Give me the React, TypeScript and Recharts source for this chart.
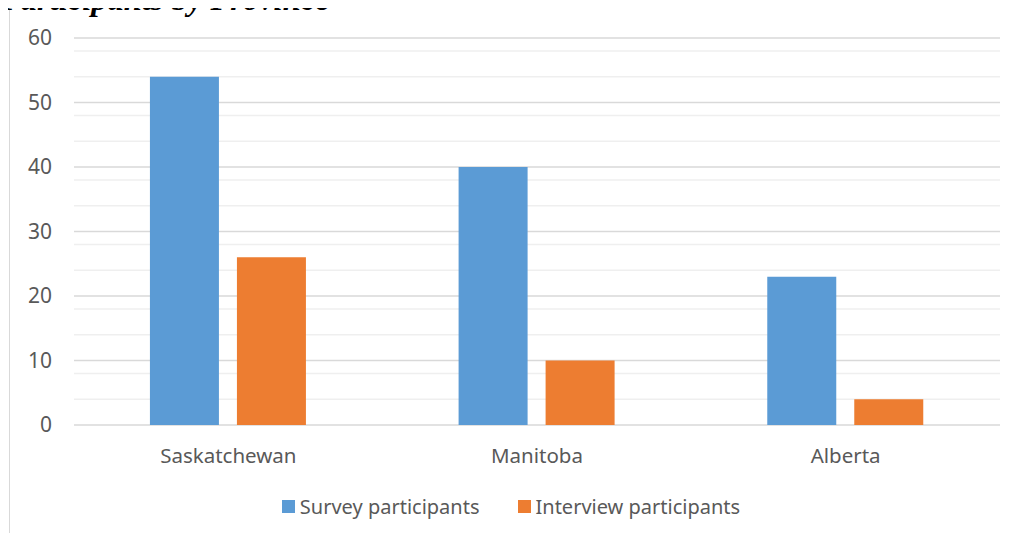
import React from "react";
import {
  BarChart,
  Bar,
  XAxis,
  YAxis,
  CartesianGrid,
  Legend,
} from "recharts";

const provinces = ["Saskatchewan", "Manitoba", "Alberta"];
const surveyParticipants = [54, 40, 23];
const interviewParticipants = [26, 10, 4];
const majorTicks = [0, 10, 20, 30, 40, 50, 60];
const minorTicks = [2, 4, 6, 8, 12, 14, 16, 18, 22, 24, 26, 28, 32, 34, 36, 38, 42, 44, 46, 48, 52, 54, 56, 58];

const series = [
  { key: "survey", name: "Survey participants", color: "#5b9bd5" },
  { key: "interview", name: "Interview participants", color: "#ed7d31" },
];

const chartData = provinces.map((name, i) => ({
  name,
  survey: surveyParticipants[i],
  interview: interviewParticipants[i],
}));

const FONT = "'Noto Sans', sans-serif";
const TEXT = "#595959";

// own legend so the order follows the series list
const LegendContent = () => (
  <div
    style={{
      display: "flex",
      justifyContent: "center",
      alignItems: "center",
      fontFamily: FONT,
      fontSize: 20,
      color: TEXT,
      paddingLeft: 12,
    }}
  >
    {series.map((s, i) => (
      <div
        key={s.key}
        style={{ display: "flex", alignItems: "center", marginLeft: i === 0 ? 0 : 38 }}
      >
        <span
          style={{
            width: 13,
            height: 13,
            background: s.color,
            display: "inline-block",
            marginRight: 5,
          }}
        />
        <span>{s.name}</span>
      </div>
    ))}
  </div>
);

const App = () => {
  return (
    <div
      style={{
        position: "relative",
        margin: -8,
        width: 1017,
        height: 541,
        overflow: "hidden",
        background: "#fff",
      }}
    >
      <div
        style={{
          position: "absolute",
          left: 1,
          top: -17,
          fontFamily: "'Liberation Serif', serif",
          fontStyle: "italic",
          fontWeight: "bold",
          fontSize: 32.5,
          lineHeight: "32.5px",
          whiteSpace: "nowrap",
          color: "#000",
          zIndex: 2,
        }}
      >
        Participants by Province
      </div>
      <div
        style={{
          position: "absolute",
          left: 9,
          top: 7,
          width: 1006,
          height: 560,
          border: "1px solid #d9d9d9",
        }}
      >
        <BarChart
          width={1006}
          height={560}
          data={chartData}
          margin={{ top: 30, right: 16, left: 0, bottom: 45 }}
          barCategoryGap="24.6%"
          barGap={18}
        >
          <CartesianGrid
            vertical={false}
            horizontalValues={minorTicks}
            stroke="#efefef"
            strokeWidth={1.5}
          />
          <CartesianGrid
            vertical={false}
            horizontalValues={majorTicks}
            stroke="#d9d9d9"
            strokeWidth={1.5}
          />
          <XAxis
            dataKey="name"
            axisLine={false}
            tickLine={false}
            tickSize={0}
            tickMargin={23}
            height={68}
            tick={{ fill: TEXT, fontSize: 20.5, fontFamily: FONT }}
          />
          <YAxis
            domain={[0, 60]}
            ticks={majorTicks}
            axisLine={false}
            tickLine={false}
            tickSize={0}
            tickMargin={22}
            width={64}
            tick={{ fill: TEXT, fontSize: 21, fontFamily: FONT }}
          />
          <Legend verticalAlign="bottom" height={30} content={<LegendContent />} />
          {series.map((s) => (
            <Bar
              key={s.key}
              dataKey={s.key}
              name={s.name}
              fill={s.color}
              isAnimationActive={false}
            />
          ))}
        </BarChart>
      </div>
    </div>
  );
};

export default App;
